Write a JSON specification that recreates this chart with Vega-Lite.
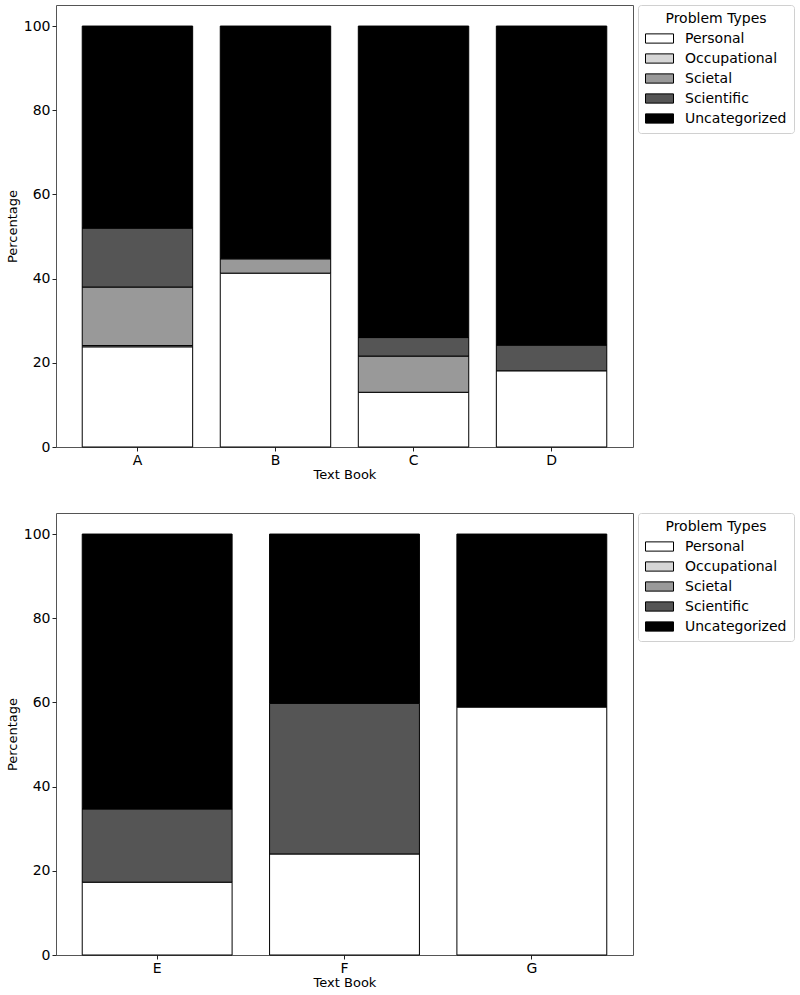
{
  "$schema": "https://vega.github.io/schema/vega-lite/v6.json",
  "padding": {"left": 5, "top": 4, "right": 0, "bottom": 0},
  "background": "white",
  "spacing": 30,
  "datasets": {
    "top": [
      {"book": "A", "type": "Personal", "pct": 23.8},
      {"book": "A", "type": "Occupational", "pct": 0.3},
      {"book": "A", "type": "Scietal", "pct": 13.9},
      {"book": "A", "type": "Scientific", "pct": 14.0},
      {"book": "A", "type": "Uncategorized", "pct": 48.0},
      {"book": "B", "type": "Personal", "pct": 41.3},
      {"book": "B", "type": "Scietal", "pct": 3.4},
      {"book": "B", "type": "Uncategorized", "pct": 55.3},
      {"book": "C", "type": "Personal", "pct": 13.0},
      {"book": "C", "type": "Scietal", "pct": 8.6},
      {"book": "C", "type": "Scientific", "pct": 4.4},
      {"book": "C", "type": "Uncategorized", "pct": 74.0},
      {"book": "D", "type": "Personal", "pct": 18.1},
      {"book": "D", "type": "Scientific", "pct": 6.1},
      {"book": "D", "type": "Uncategorized", "pct": 75.8}
    ],
    "bottom": [
      {"book": "E", "type": "Personal", "pct": 17.3},
      {"book": "E", "type": "Scientific", "pct": 17.4},
      {"book": "E", "type": "Uncategorized", "pct": 65.3},
      {"book": "F", "type": "Personal", "pct": 24.0},
      {"book": "F", "type": "Scientific", "pct": 35.8},
      {"book": "F", "type": "Uncategorized", "pct": 40.2},
      {"book": "G", "type": "Personal", "pct": 58.9},
      {"book": "G", "type": "Uncategorized", "pct": 41.1}
    ]
  },
  "vconcat": [
    {
      "data": {"name": "top"},
      "width": 577,
      "height": 442,
      "transform": [
        {"calculate": "indexof(['Personal','Occupational','Scietal','Scientific','Uncategorized'], datum.type)", "as": "k"}
      ],
      "mark": {"type": "bar", "stroke": "black", "strokeWidth": 1},
      "encoding": {
        "x": {"field": "book", "type": "nominal", "title": "Text Book",
              "scale": {"paddingInner": 0.2, "paddingOuter": 0.19},
              "axis": {"labelAngle": 0}},
        "y": {"field": "pct", "type": "quantitative", "aggregate": "sum", "title": "Percentage",
              "scale": {"domain": [0, 105], "nice": false},
              "axis": {"values": [0, 20, 40, 60, 80, 100]}},
        "color": {"field": "type", "type": "nominal", "title": "Problem Types",
                  "scale": {"domain": ["Personal", "Occupational", "Scietal", "Scientific", "Uncategorized"],
                            "range": ["#ffffff", "#d6d6d6", "#999999", "#555555", "#000000"]}},
        "order": {"field": "k", "type": "quantitative", "sort": "ascending"}
      }
    },
    {
      "data": {"name": "bottom"},
      "width": 577,
      "height": 442,
      "transform": [
        {"calculate": "indexof(['Personal','Occupational','Scietal','Scientific','Uncategorized'], datum.type)", "as": "k"}
      ],
      "mark": {"type": "bar", "stroke": "black", "strokeWidth": 1},
      "encoding": {
        "x": {"field": "book", "type": "nominal", "title": "Text Book",
              "scale": {"paddingInner": 0.2, "paddingOuter": 0.14},
              "axis": {"labelAngle": 0}},
        "y": {"field": "pct", "type": "quantitative", "aggregate": "sum", "title": "Percentage",
              "scale": {"domain": [0, 105], "nice": false},
              "axis": {"values": [0, 20, 40, 60, 80, 100]}},
        "color": {"field": "type", "type": "nominal", "title": "Problem Types",
                  "scale": {"domain": ["Personal", "Occupational", "Scietal", "Scientific", "Uncategorized"],
                            "range": ["#ffffff", "#d6d6d6", "#999999", "#555555", "#000000"]}},
        "order": {"field": "k", "type": "quantitative", "sort": "ascending"}
      }
    }
  ],
  "resolve": {"legend": {"color": "independent"}, "scale": {"color": "independent"}},
  "config": {
    "font": "DejaVu Sans",
    "view": {"stroke": "#555555", "strokeWidth": 1},
    "axis": {
      "domain": false,
      "grid": false,
      "ticks": true,
      "tickColor": "#222222",
      "tickSize": 4,
      "labelFontSize": 14,
      "labelColor": "#000000",
      "labelPadding": 2,
      "titleFontSize": 13,
      "titleFontWeight": "normal",
      "titleColor": "#000000"
    },
    "axisX": {"titlePadding": 1},
    "axisY": {"titlePadding": 4},
    "legend": {
      "offset": 5,
      "padding": 7,
      "strokeColor": "#d0d0d0",
      "fillColor": "#ffffff",
      "cornerRadius": 3,
      "titleFontSize": 14,
      "titleFontWeight": "normal",
      "titleColor": "#000000",
      "titleAnchor": "middle",
      "titleAlign": "center",
      "titlePadding": 5,
      "labelFontSize": 14,
      "labelColor": "#000000",
      "labelOffset": 18,
      "rowPadding": 5,
      "symbolType": "M-2,-0.66H2V0.66H-2Z",
      "symbolSize": 196,
      "symbolOffset": 7,
      "symbolStrokeColor": "#000000",
      "symbolStrokeWidth": 1,
      "symbolOpacity": 1
    }
  }
}
